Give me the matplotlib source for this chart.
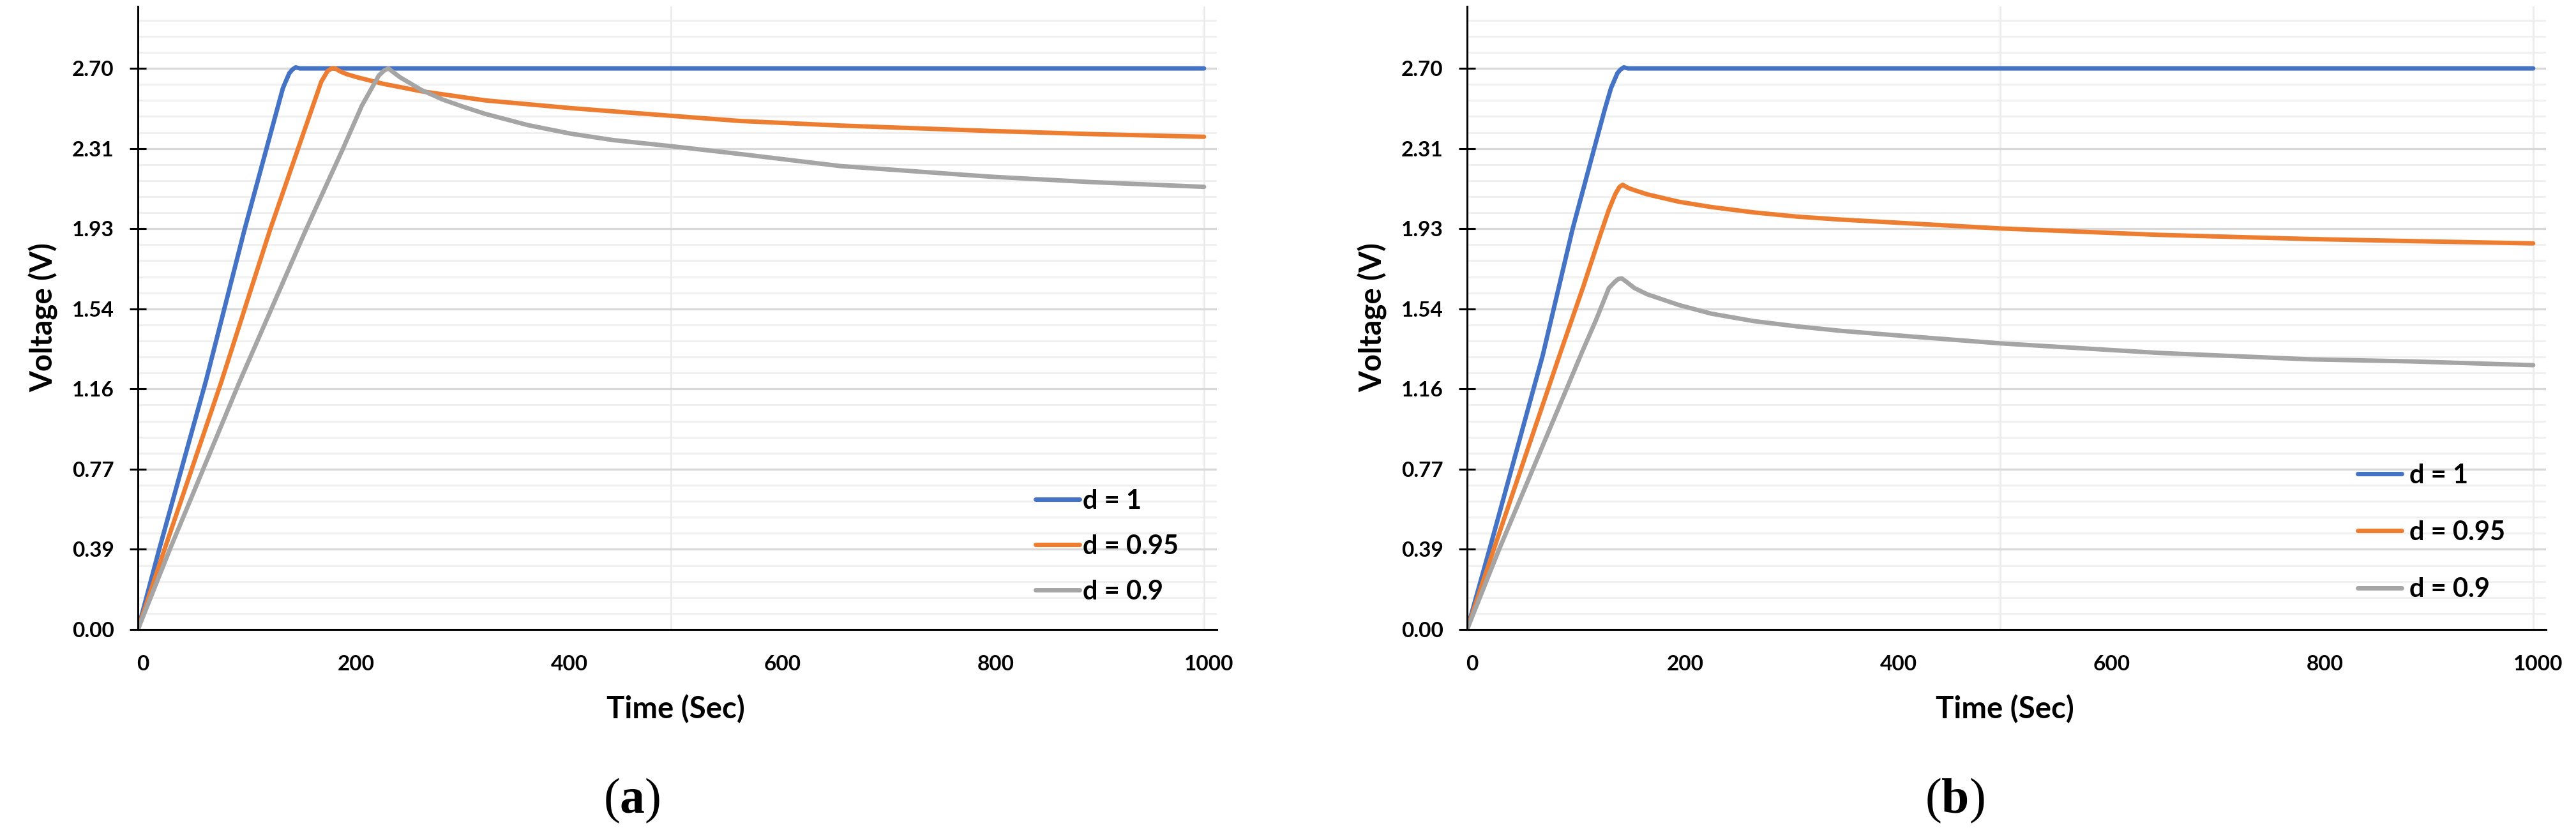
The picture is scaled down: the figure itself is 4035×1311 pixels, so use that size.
import numpy as np
import matplotlib
matplotlib.use("Agg")
import matplotlib.pyplot as plt
from matplotlib.ticker import FixedLocator, FixedFormatter
from matplotlib.transforms import ScaledTranslation

# ---- data ----
labels = ["d = 1", "d = 0.95", "d = 0.9"]
colors = ["#4472C4", "#ED7D31", "#A5A5A5"]

# panel (a)
t_a_d1 = [0, 20, 64, 100, 136, 142, 145, 148, 152, 1000]
v_a_d1 = [0, 0.386, 1.20, 1.924, 2.605, 2.677, 2.695, 2.705, 2.70, 2.70]
t_a_d095 = [0, 25, 78, 124, 150, 172, 178, 182, 185, 190, 196, 206, 230, 266, 326,
            406, 500, 565, 659, 800, 894, 1000]
v_a_d095 = [0, 0.386, 1.188, 1.924, 2.31, 2.636, 2.688, 2.70, 2.70, 2.685, 2.672, 2.657,
            2.626, 2.59, 2.546, 2.509, 2.472, 2.447, 2.425, 2.399, 2.384, 2.371]
t_a_d09 = [0, 30, 95, 158, 192, 210, 226, 231, 235, 240, 246, 266, 286, 306, 326, 366,
           406, 446, 500, 565, 659, 800, 894, 1000]
v_a_d09 = [0, 0.386, 1.188, 1.928, 2.31, 2.52, 2.666, 2.69, 2.70, 2.68, 2.657, 2.596,
           2.55, 2.514, 2.481, 2.427, 2.386, 2.355, 2.326, 2.288, 2.23, 2.179, 2.153, 2.13]

# panel (b)
t_b_d1 = [0, 21, 71, 99, 119, 129, 135, 141, 144, 147, 151, 1000]
v_b_d1 = [0, 0.385, 1.32, 1.928, 2.31, 2.50, 2.605, 2.677, 2.695, 2.705, 2.70, 2.70]
t_b_d095 = [0, 25, 88, 109, 125, 133, 139, 143, 146, 151, 157, 169, 199, 229, 269, 309,
            349, 409, 500, 649, 791, 886, 1000]
v_b_d095 = [0, 0.385, 1.339, 1.65, 1.90, 2.02, 2.095, 2.13, 2.14, 2.125, 2.114, 2.094,
            2.058, 2.033, 2.007, 1.987, 1.973, 1.956, 1.93, 1.899, 1.879, 1.869, 1.858]
t_b_d09 = [0, 30, 108, 121, 133, 139, 142, 145, 149, 157, 169, 199, 229, 269, 309, 349,
           409, 500, 649, 791, 886, 1000]
v_b_d09 = [0, 0.385, 1.337, 1.49, 1.643, 1.675, 1.687, 1.69, 1.675, 1.643, 1.613, 1.561,
           1.52, 1.484, 1.459, 1.438, 1.413, 1.377, 1.331, 1.30, 1.29, 1.272]

y_ticks = [0.00, 0.39, 0.77, 1.16, 1.54, 1.93, 2.31, 2.70]
x_ticks = [0, 200, 400, 600, 800, 1000]

plt.rcParams["mathtext.fontset"] = "custom"
plt.rcParams["mathtext.bf"] = "Liberation Serif:bold"
plt.rcParams["mathtext.rm"] = "Liberation Serif"

W, H = 4035, 1311
fig = plt.figure(figsize=(W / 100, H / 100), dpi=100)

title_font = dict(family="Lato", weight="bold", size=34)


def px(x, y):
    return x / W, 1 - y / H


def make_panel(left, series, leg_xy, leg_spacing, leg_pad, tag, tag_x):
    ax = fig.add_axes([left / W, 1 - 986 / H, 1690 / W, (986 - 9.5) / H])
    ax.set_xlim(0, 1012)
    ax.set_ylim(0, 3.0)
    step = 2.7 / 7
    # gridlines
    for k in range(1, 39):
        yv = k * step / 5
        if yv > 3.0:
            break
        if k % 5 == 0:
            ax.axhline(yv, color="#d9d9d9", lw=2.4, zorder=1)
        else:
            ax.axhline(yv, color="#f0f0f0", lw=2.2, zorder=0.5)
    for xv in [500, 1000]:
        ax.axvline(xv, color="#ebebeb", lw=2.0, zorder=0.6)

    for (t, v), c, lab in zip(series, colors, labels):
        ax.plot(t, v, color=c, lw=5.0, label=lab, solid_capstyle="round",
                solid_joinstyle="round", zorder=3)

    for s in ["top", "right"]:
        ax.spines[s].set_visible(False)
    for s in ["left", "bottom"]:
        ax.spines[s].set_linewidth(2.2)
        ax.spines[s].set_zorder(4)

    ax.yaxis.set_major_locator(FixedLocator([k * step for k in range(8)]))
    ax.yaxis.set_major_formatter(FixedFormatter(["%.2f" % v for v in y_ticks]))
    ax.tick_params(axis="y", which="major", direction="inout", length=19.4, width=2.2,
                   pad=17.3)
    ax.xaxis.set_major_locator(FixedLocator(x_ticks))
    ax.xaxis.set_major_formatter(FixedFormatter([str(v) for v in x_ticks]))
    ax.xaxis.set_minor_locator(FixedLocator([0, 1000]))
    ax.tick_params(axis="x", which="major", length=0, pad=28.5)
    ax.tick_params(axis="x", which="minor", direction="inout", length=19.4, width=2.2)
    for lbl in ax.get_xticklabels() + ax.get_yticklabels():
        lbl.set_fontfamily("Lato")
        lbl.set_fontweight("bold")
        lbl.set_fontsize(24)
    shift = ScaledTranslation(8 / 100, 0, fig.dpi_scale_trans)
    for tk in ax.xaxis.get_major_ticks():
        tk.label1.set_transform(tk.label1.get_transform() + shift)

    leg = ax.legend(loc="center left", bbox_to_anchor=px(*leg_xy),
                    bbox_transform=fig.transFigure, frameon=False,
                    prop=dict(family="Lato", weight="bold", size=30),
                    handlelength=1.65, handletextpad=leg_pad, borderpad=0,
                    borderaxespad=0, labelspacing=leg_spacing)
    for ln in leg.get_lines():
        ln.set_linewidth(5.0)

    cx = left + 1690 / 2
    fig.text(*px(cx - 3, 1125), "Time (Sec)", ha="center", va="baseline", **title_font)
    fig.text(*px(left - 148, 497), "Voltage (V)", ha="center", va="center",
             rotation=90, **title_font)
    fig.text(*px(tag_x, 1273), "($\\mathbf{" + tag + "}$)", ha="center", va="baseline",
             family="Liberation Serif", size=56)
    return ax


make_panel(216, [(t_a_d1, v_a_d1), (t_a_d095, v_a_d095), (t_a_d09, v_a_d09)],
           (1622, 856), 0.79, 0.12, "a", 990)
make_panel(2298, [(t_b_d1, v_b_d1), (t_b_d095, v_b_d095), (t_b_d09, v_b_d09)],
           (3693, 834), 1.23, 0.3, "b", 3062)

fig.savefig("out.png", dpi=100)
